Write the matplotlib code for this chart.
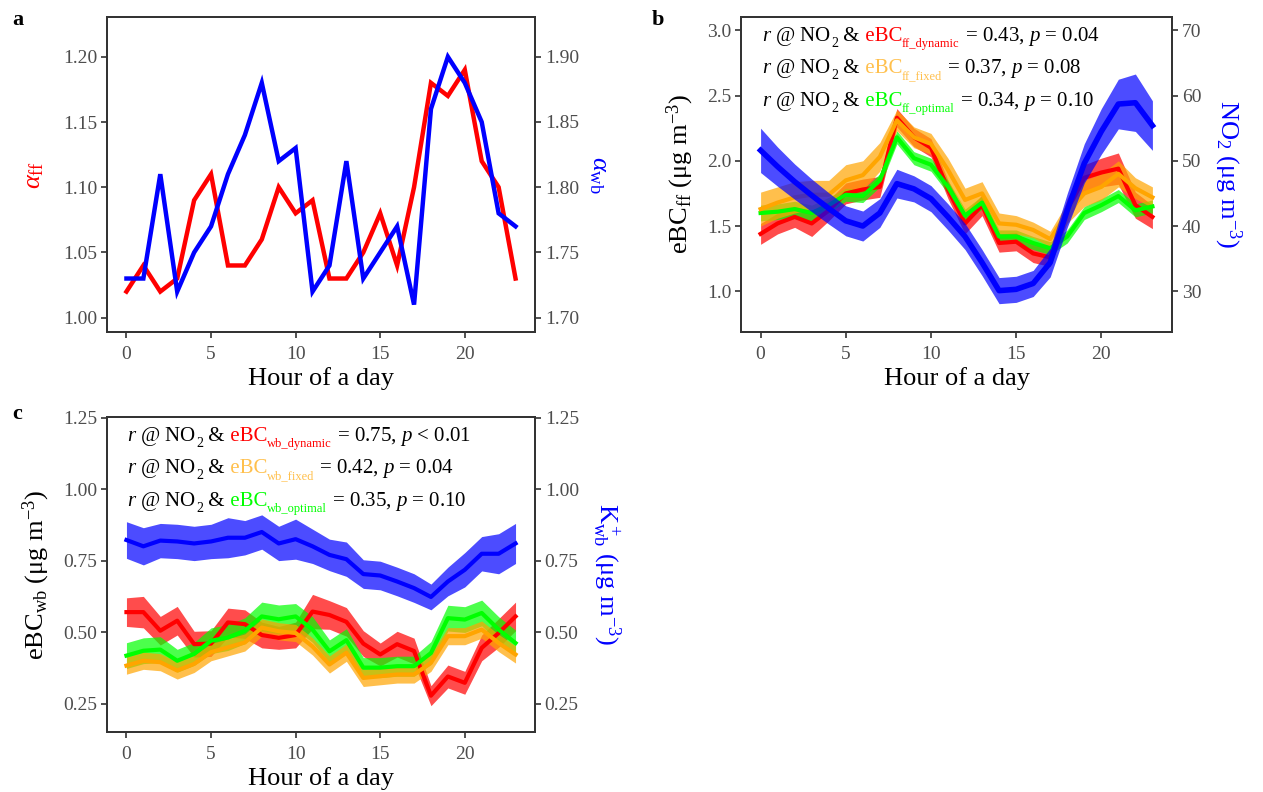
import matplotlib
matplotlib.use("Agg")
import matplotlib.pyplot as plt
import matplotlib.transforms as mtransforms
import numpy as np

plt.rcParams['font.family'] = ['Liberation Serif', 'DejaVu Serif']
plt.rcParams['mathtext.fontset'] = 'custom'
plt.rcParams['mathtext.rm'] = 'Liberation Serif'
plt.rcParams['mathtext.it'] = 'Liberation Serif:italic'
plt.rcParams['mathtext.bf'] = 'Liberation Serif:bold'

hours = list(range(24))

# Panel a
alpha_ff = [1.02, 1.04, 1.02, 1.03, 1.09, 1.11, 1.04, 1.04, 1.06, 1.10, 1.08, 1.09,
            1.03, 1.03, 1.05, 1.08, 1.04, 1.10, 1.18, 1.17, 1.19, 1.12, 1.10, 1.03]
alpha_wb = [1.73, 1.73, 1.81, 1.72, 1.75, 1.77, 1.81, 1.84, 1.88, 1.82, 1.83, 1.72,
            1.74, 1.82, 1.73, 1.75, 1.77, 1.71, 1.86, 1.90, 1.88, 1.85, 1.78, 1.77]

# Panel b
ebc_ff_dynamic = [1.44, 1.52, 1.57, 1.52, 1.62, 1.75, 1.78, 1.80, 2.33, 2.18, 2.10, 1.78,
                  1.52, 1.66, 1.37, 1.38, 1.29, 1.26, 1.62, 1.87, 1.91, 1.94, 1.66, 1.57]
ebc_ff_dynamic_se = [0.08, 0.08, 0.08, 0.10, 0.08, 0.08, 0.08, 0.08, 0.07, 0.07, 0.07, 0.07,
                     0.08, 0.08, 0.07, 0.07, 0.07, 0.07, 0.09, 0.10, 0.11, 0.12, 0.10, 0.09]
ebc_ff_fixed = [1.63, 1.68, 1.72, 1.74, 1.74, 1.85, 1.89, 2.03, 2.31, 2.18, 2.13, 1.93,
                1.70, 1.75, 1.52, 1.51, 1.47, 1.40, 1.60, 1.75, 1.80, 1.90, 1.79, 1.72]
ebc_ff_fixed_se = [0.13, 0.12, 0.12, 0.11, 0.11, 0.12, 0.11, 0.11, 0.08, 0.08, 0.08, 0.09,
                   0.09, 0.09, 0.08, 0.07, 0.06, 0.06, 0.08, 0.10, 0.10, 0.10, 0.08, 0.08]
ebc_ff_optimal = [1.60, 1.61, 1.63, 1.60, 1.66, 1.74, 1.73, 1.85, 2.18, 2.02, 1.97, 1.80,
                  1.58, 1.68, 1.42, 1.42, 1.37, 1.33, 1.42, 1.60, 1.66, 1.73, 1.62, 1.65]
ebc_ff_optimal_se = [0.06, 0.06, 0.06, 0.06, 0.06, 0.05, 0.05, 0.05, 0.05, 0.05, 0.05, 0.05,
                     0.05, 0.05, 0.05, 0.05, 0.05, 0.05, 0.05, 0.05, 0.05, 0.05, 0.05, 0.05]
no2 = [51.6, 49.1, 46.8, 44.7, 42.7, 40.8, 40.0, 42.0, 46.5, 45.7, 44.2, 41.4,
       38.4, 34.4, 30.1, 30.3, 31.2, 34.4, 42.4, 49.6, 54.5, 58.7, 58.9, 55.4]
no2_se = [3.4, 3.0, 2.7, 2.5, 2.4, 2.3, 2.3, 2.2, 2.2, 2.0, 2.0, 2.0,
          2.0, 2.0, 2.0, 2.0, 2.0, 2.2, 2.6, 3.0, 3.5, 3.8, 4.4, 3.8]

# Panel c
ebc_wb_dynamic = [0.57, 0.57, 0.505, 0.54, 0.458, 0.46, 0.534, 0.528, 0.49, 0.48, 0.49, 0.572,
                  0.56, 0.536, 0.46, 0.422, 0.458, 0.434, 0.278, 0.345, 0.323, 0.445, 0.497, 0.555]
ebc_wb_dynamic_se = [0.05, 0.055, 0.05, 0.05, 0.045, 0.045, 0.05, 0.05, 0.045, 0.04, 0.045, 0.06,
                     0.05, 0.05, 0.045, 0.04, 0.045, 0.045, 0.035, 0.04, 0.04, 0.045, 0.05, 0.05]
ebc_wb_fixed = [0.383, 0.40, 0.395, 0.366, 0.389, 0.43, 0.447, 0.464, 0.516, 0.503, 0.497, 0.45,
                0.387, 0.428, 0.34, 0.346, 0.352, 0.352, 0.393, 0.486, 0.486, 0.509, 0.462, 0.422]
ebc_wb_fixed_se = [0.03, 0.03, 0.03, 0.03, 0.03, 0.03, 0.03, 0.03, 0.03, 0.03, 0.03, 0.03,
                   0.03, 0.03, 0.03, 0.03, 0.03, 0.03, 0.03, 0.03, 0.03, 0.03, 0.03, 0.03]
ebc_wb_optimal = [0.418, 0.435, 0.439, 0.40, 0.424, 0.47, 0.481, 0.505, 0.555, 0.545, 0.555, 0.509,
                  0.433, 0.472, 0.376, 0.376, 0.381, 0.381, 0.427, 0.549, 0.544, 0.567, 0.509, 0.462]
ebc_wb_optimal_se = [0.045, 0.045, 0.045, 0.04, 0.04, 0.045, 0.045, 0.045, 0.05, 0.05, 0.045, 0.045,
                     0.04, 0.04, 0.035, 0.035, 0.035, 0.035, 0.04, 0.045, 0.045, 0.045, 0.045, 0.045]
k_wb = [0.822, 0.80, 0.82, 0.817, 0.81, 0.817, 0.83, 0.83, 0.85, 0.81, 0.825, 0.80,
        0.77, 0.755, 0.703, 0.698, 0.677, 0.654, 0.623, 0.677, 0.718, 0.774, 0.774, 0.81]
k_wb_se = [0.064, 0.065, 0.06, 0.06, 0.06, 0.06, 0.07, 0.06, 0.06, 0.06, 0.07, 0.06,
           0.055, 0.06, 0.05, 0.05, 0.05, 0.05, 0.045, 0.05, 0.06, 0.06, 0.07, 0.07]

xticks = [0, 5, 10, 15, 20]
annot_b = [("ff_dynamic", "0.43", "=", "0.04"), ("ff_fixed", "0.37", "=", "0.08"),
           ("ff_optimal", "0.34", "=", "0.10")]
annot_c = [("wb_dynamic", "0.75", "<", "0.01"), ("wb_fixed", "0.42", "=", "0.04"),
           ("wb_optimal", "0.35", "=", "0.10")]

RED, ORANGE, GREEN, BLUE = '#FF0000', '#FFA500', '#00FF00', '#0000FF'
LIGHTORANGE = '#FFC04D'
SPINE = '#333333'
TICKC = '#4D4D4D'
TICKFS = 14
LABFS = 19

W, H = 1263, 792
fig = plt.figure(figsize=(W / 100, H / 100), dpi=100)


def px_axes(l, t, r, b):
    return fig.add_axes([l / W, 1 - b / H, (r - l) / W, (b - t) / H])


def style(ax):
    for s in ax.spines.values():
        s.set_color(SPINE)
        s.set_linewidth(1.3)
    ax.tick_params(axis='both', which='major', direction='out', length=4, width=1.2,
                   color=SPINE, labelcolor=TICKC, labelsize=TICKFS, pad=3)
    ax.tick_params(axis='x', pad=6)


ax_a = px_axes(107, 17, 535, 332)
ax_b = px_axes(741, 17, 1172, 332)
ax_c = px_axes(107, 417, 535, 732)

x = np.array(hours)

# ---------- panel a ----------
ax_a.plot(x, alpha_ff, color=RED, lw=3.2, solid_joinstyle='miter', zorder=3)
ax_a.set_ylim(0.989, 1.2305)
ax_a.set_yticks([1.00, 1.05, 1.10, 1.15, 1.20])
ax_a.set_yticklabels(['1.00', '1.05', '1.10', '1.15', '1.20'])
ax_a2 = ax_a.twinx()
ax_a2.plot(x, alpha_wb, color=BLUE, lw=3.2, solid_joinstyle='miter', zorder=3)
ax_a2.set_ylim(0.989 + 0.7, 1.2305 + 0.7)
ax_a2.set_yticks([1.70, 1.75, 1.80, 1.85, 1.90])
ax_a2.set_yticklabels(['1.70', '1.75', '1.80', '1.85', '1.90'])
ax_a.set_ylabel(r'$\alpha_\mathregular{ff}$', color=RED, fontsize=LABFS, labelpad=12)
ax_a2.set_ylabel(r'$\alpha_\mathregular{wb}$', color=BLUE, fontsize=LABFS, rotation=270,
                 va='bottom', labelpad=6)


# ---------- panel b ----------
def band(ax, y, se, color):
    y = np.array(y); se = np.array(se)
    ax.fill_between(x, y - se, y + se, color=color, alpha=0.7, lw=0)


band(ax_b, ebc_ff_dynamic, ebc_ff_dynamic_se, RED)
band(ax_b, ebc_ff_optimal, ebc_ff_optimal_se, GREEN)
band(ax_b, ebc_ff_fixed, ebc_ff_fixed_se, ORANGE)
ax_b.plot(x, ebc_ff_dynamic, color=RED, lw=3)
ax_b.plot(x, ebc_ff_optimal, color=GREEN, lw=3)
ax_b.plot(x, ebc_ff_fixed, color=ORANGE, lw=3)
ax_b.set_ylim(0.688, 3.102)
ax_b.set_yticks([1.0, 1.5, 2.0, 2.5, 3.0])
ax_b.set_yticklabels(['1.0', '1.5', '2.0', '2.5', '3.0'])
ax_b2 = ax_b.twinx()
band(ax_b2, no2, no2_se, BLUE)
ax_b2.plot(x, no2, color=BLUE, lw=4)
ax_b2.set_ylim(0.688 * 20 + 10, 3.102 * 20 + 10)
ax_b2.set_yticks([30, 40, 50, 60, 70])
ax_b.set_ylabel(r'eBC$_\mathregular{ff}$ (μg m$^{-3}$)', color='black', fontsize=LABFS, labelpad=8)
ax_b2.set_ylabel(r'NO$_2$ (μg m$^{-3}$)', color=BLUE, fontsize=LABFS, rotation=270,
                 va='bottom', labelpad=8)

# ---------- panel c ----------
band(ax_c, ebc_wb_dynamic, ebc_wb_dynamic_se, RED)
band(ax_c, ebc_wb_optimal, ebc_wb_optimal_se, GREEN)
band(ax_c, ebc_wb_fixed, ebc_wb_fixed_se, ORANGE)
ax_c.plot(x, ebc_wb_dynamic, color=RED, lw=3)
ax_c.plot(x, ebc_wb_optimal, color=GREEN, lw=3)
ax_c.plot(x, ebc_wb_fixed, color=ORANGE, lw=3)
ax_c.set_ylim(0.151, 1.252)
cticks = [0.25, 0.50, 0.75, 1.00, 1.25]
ax_c.set_yticks(cticks)
ax_c.set_yticklabels(['%.2f' % v for v in cticks])
ax_c2 = ax_c.twinx()
band(ax_c2, k_wb, k_wb_se, BLUE)
ax_c2.plot(x, k_wb, color=BLUE, lw=3)
ax_c2.set_ylim(0.151, 1.252)
ax_c2.set_yticks(cticks)
ax_c2.set_yticklabels(['%.2f' % v for v in cticks])
ax_c.set_ylabel(r'eBC$_\mathregular{wb}$ (μg m$^{-3}$)', color='black', fontsize=LABFS, labelpad=8)
ax_c2.set_ylabel(r'K$^+_\mathregular{wb}$ (μg m$^{-3}$)', color=BLUE, fontsize=LABFS,
                 rotation=270, va='bottom', labelpad=8)

for ax in (ax_a, ax_b, ax_c):
    ax.set_xlim(-1.15, 24.15)
    ax.set_xticks(xticks)
    ax.set_xlabel('Hour of a day', fontsize=LABFS, labelpad=3)
for ax in (ax_a, ax_a2, ax_b, ax_b2, ax_c, ax_c2):
    style(ax)

# ---------- rich annotations ----------
renderer = fig.canvas.get_renderer()
FS, SUBFS, SUBDY = 15, 9, -6


def rich(ax, xf, yf, pieces):
    dx = 0.0
    for txt, col, fs, dy in pieces:
        tr = mtransforms.offset_copy(ax.transAxes, fig=fig, x=dx, y=dy, units='dots')
        t = ax.text(xf, yf, txt, color=col, fontsize=fs, transform=tr,
                    ha='left', va='baseline', zorder=10)
        dx += t.get_window_extent(renderer).width


def annot_pieces(sub, r, op, p, col):
    return [(r'$r$ @ NO', 'black', FS, 0),
            ('2', 'black', 10, SUBDY),
            (' &', 'black', FS, 0),
            (' eBC', col, FS, 0),
            (sub, col, SUBFS, SUBDY),
            (r' = %s, $p$ %s %s' % (r, op, p), 'black', FS, 0)]


ybase = [0.924, 0.821, 0.717]
for (sub, r, op, p), col, yb in zip(annot_b, [RED, LIGHTORANGE, GREEN], ybase):
    rich(ax_b2, 0.049, yb, annot_pieces(sub, r, op, p, col))
for (sub, r, op, p), col, yb in zip(annot_c, [RED, LIGHTORANGE, GREEN], ybase):
    rich(ax_c2, 0.047, yb, annot_pieces(sub, r, op, p, col))

# panel letters
fig.text(12 / W, 1 - 10 / H, 'a', fontsize=16, fontweight='bold', va='top', ha='left')
fig.text(652 / W, 1 - 10 / H, 'b', fontsize=16, fontweight='bold', va='top', ha='left')
fig.text(12 / W, 1 - 404 / H, 'c', fontsize=16, fontweight='bold', va='top', ha='left')

fig.savefig('out.png', dpi=100)
